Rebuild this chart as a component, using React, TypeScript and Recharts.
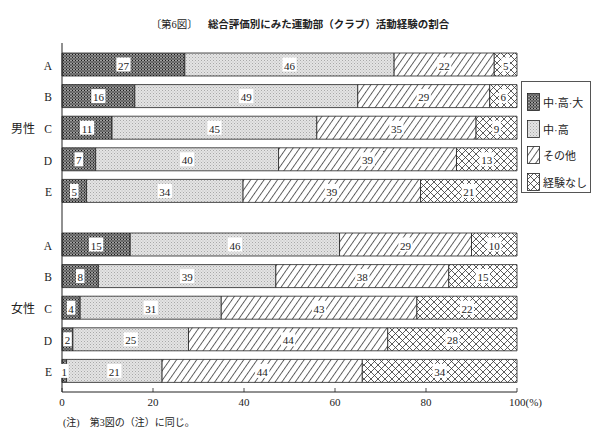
import React from 'react';
import { BarChart, Bar, XAxis, YAxis, LabelList, Legend } from 'recharts';

// 総合評価 categories
const categories = ['A', 'B', 'C', 'D', 'E'];

// 男性 (%)
const maleTop = [27, 16, 11, 7.4, 5.4];
const maleMid = [46, 49, 45, 40.2, 34.4];
const maleOther = [22, 29, 35, 39.1, 39.0];
const maleNone = [5, 6, 9, 13.3, 21.2];

// 女性 (%)
const femaleTop = [15, 8, 4, 2.4, 1];
const femaleMid = [46, 39, 31, 25.4, 21];
const femaleOther = [29, 38, 43, 43.8, 44];
const femaleNone = [10, 15, 22, 28.4, 34];

const xTicks = [0, 20, 40, 60, 80, 100];
const seriesNames = ['中·高·大', '中·高', 'その他', '経験なし'];
const seriesKeys = ['top', 'mid', 'other', 'none'];
const patternIds = ['pTop', 'pMid', 'pOther', 'pNone'];

const FONT = "'Liberation Serif', 'DejaVu Serif', 'Noto Sans CJK JP', serif";
const INK = '#222';

const maleData = categories.map((name, i) => ({
  name, top: maleTop[i], mid: maleMid[i], other: maleOther[i], none: maleNone[i],
}));
const femaleData = categories.map((name, i) => ({
  name, top: femaleTop[i], mid: femaleMid[i], other: femaleOther[i], none: femaleNone[i],
}));

const Patterns = () => (
  <defs>
    <pattern id="pTop" width="3" height="3" patternUnits="userSpaceOnUse">
      <rect width="3" height="3" fill="#7c7c7c" />
      <rect x="0" y="0" width="1" height="1" fill="#1a1a1a" />
      <rect x="1.5" y="1.5" width="1" height="1" fill="#2a2a2a" />
      <rect x="1.5" y="0" width="1" height="1" fill="#c8c8c8" />
    </pattern>
    <pattern id="pMid" width="3" height="3" patternUnits="userSpaceOnUse">
      <rect width="3" height="3" fill="#e4e4e4" />
      <rect x="0" y="0" width="1" height="1" fill="#a8a8a8" />
      <rect x="1.5" y="1.5" width="1" height="1" fill="#b8b8b8" />
    </pattern>
    <pattern id="pOther" width="5.5" height="8" patternUnits="userSpaceOnUse" patternTransform="rotate(35)">
      <rect width="5.5" height="8" fill="#fff" />
      <line x1="0.5" y1="0" x2="0.5" y2="8" stroke="#333" strokeWidth="0.8" />
    </pattern>
    <pattern id="pNone" width="7" height="7" patternUnits="userSpaceOnUse">
      <rect width="7" height="7" fill="#fff" />
      <path d="M0,0 L7,7 M7,0 L0,7" stroke="#333" strokeWidth="0.8" />
    </pattern>
  </defs>
);

const ValueLabel = (props: any) => {
  const { x, y, width, height, value } = props;
  const text = String(Math.round(Number(value)));
  const cx = Number(x) + Number(width) / 2;
  const cy = Number(y) + Number(height) / 2;
  const w = text.length * 5.6 + 3;
  return (
    <g>
      <rect x={cx - w / 2} y={cy - 7} width={w} height={14} fill="#fff" />
      <text x={cx} y={cy + 1} textAnchor="middle" dominantBaseline="central"
        fontSize={11} fontFamily={FONT} fill={INK}>{text}</text>
    </g>
  );
};

const makeYTick = (group: string) => (props: any) => {
  const { x, y, payload } = props;
  return (
    <g>
      <text x={x} y={y + 1} textAnchor="end" dominantBaseline="central"
        fontSize={11.5} fontFamily={FONT} fill={INK}>{payload.value}</text>
      {payload.value === 'C' && (
        <text x={x - 17} y={y + 1} textAnchor="end" dominantBaseline="central"
          fontSize={12} fontFamily={FONT} fill={INK}>{group}</text>
      )}
    </g>
  );
};

const XTick = (props: any) => {
  const { x, y, payload } = props;
  const v = payload.value;
  return (
    <g>
      <line x1={x} x2={x} y1={y} y2={y - 4} stroke={INK} strokeWidth={0.8} />
      {v === 100 ? (
        <text x={x - 8} y={y + 10} textAnchor="start" dominantBaseline="central"
          fontSize={11} fontFamily={FONT} fill={INK}>100<tspan>(%)</tspan></text>
      ) : (
        <text x={x} y={y + 10} textAnchor="middle" dominantBaseline="central"
          fontSize={11} fontFamily={FONT} fill={INK}>{v}</text>
      )}
    </g>
  );
};

const LegendBox = () => (
  <div style={{
    width: 70, height: 112, border: '1px solid #555', background: '#fff',
    fontFamily: FONT, fontSize: 11, color: INK, boxSizing: 'border-box', paddingTop: 7,
  }}>
    {seriesNames.map((n, i) => (
      <div key={n} style={{ display: 'flex', alignItems: 'center', height: 26.5, paddingLeft: 5 }}>
        <svg width={13} height={18} style={{ marginRight: 3 }}>
          <rect x={0.5} y={0.5} width={12} height={17} fill={`url(#${patternIds[i]})`} stroke={INK} strokeWidth={0.8} />
        </svg>
        <span>{n}</span>
      </div>
    ))}
  </div>
);

const bars = () =>
  seriesKeys.map((k, i) => (
    <Bar key={k} yAxisId="l" dataKey={k} name={seriesNames[i]} stackId="s"
      fill={`url(#${patternIds[i]})`} stroke={INK} strokeWidth={0.8}
      barSize={23} isAnimationActive={false}>
      <LabelList dataKey={k} content={ValueLabel} />
    </Bar>
  ));

export default function App() {
  return (
    <div style={{ position: 'relative', width: 609, height: 447, background: '#fff', fontFamily: FONT }}>
      <style>{'body{margin:0;background:#fff}'}</style>
      <div style={{
        position: 'absolute', left: 0, top: 16, width: 600, textAlign: 'center',
        fontSize: 10.5, color: INK, fontFamily: "'Noto Sans CJK JP', sans-serif", whiteSpace: 'nowrap',
      }}>
        <span style={{ fontFamily: "'Liberation Serif', 'Noto Sans CJK JP', serif", fontWeight: 400 }}>〔第6図〕</span>
        <span style={{ fontWeight: 700, marginLeft: 10 }}>総合評価別にみた運動部（クラブ）活動経験の割合</span>
      </div>

      <div style={{ position: 'absolute', left: 0, top: 0 }}>
        <BarChart width={609} height={218} data={maleData} layout="vertical"
          margin={{ top: 43, right: 92, bottom: 0, left: 0 }} barCategoryGap={0}>
          <Patterns />
          <XAxis type="number" orientation="top" domain={[0, 100]} ticks={xTicks} height={0}
            tick={false} tickLine={false} axisLine={{ stroke: INK, strokeWidth: 1 }} />
          <YAxis yAxisId="l" type="category" dataKey="name" width={62} padding={{ top: 6, bottom: 11 }}
            tickLine={false} tickMargin={4} axisLine={{ stroke: INK, strokeWidth: 1 }}
            tick={makeYTick('男性')} interval={0} />
          <YAxis yAxisId="r" type="category" dataKey="name" orientation="right" width={0}
            padding={{ top: 6, bottom: 11 }} tick={false} tickLine={false}
            axisLine={{ stroke: INK, strokeWidth: 1 }} />
          {bars()}
          <Legend layout="vertical" align="center" verticalAlign="middle" content={() => <LegendBox />}
            wrapperStyle={{ position: 'absolute', left: 521, top: 81, width: 72, height: 114 }} />
        </BarChart>
      </div>

      <div style={{ position: 'absolute', left: 0, top: 218 }}>
        <BarChart width={609} height={229} data={femaleData} layout="vertical"
          margin={{ top: 0, right: 92, bottom: 35, left: 0 }} barCategoryGap={0}>
          <XAxis type="number" orientation="bottom" domain={[0, 100]} ticks={xTicks} height={20}
            tickSize={0} tickMargin={0} tickLine={false} tick={XTick} interval={0}
            axisLine={{ stroke: INK, strokeWidth: 1 }} />
          <YAxis yAxisId="l" type="category" dataKey="name" width={62} padding={{ top: 11, bottom: 5 }}
            tickLine={false} tickMargin={4} axisLine={{ stroke: INK, strokeWidth: 1 }}
            tick={makeYTick('女性')} interval={0} />
          <YAxis yAxisId="r" type="category" dataKey="name" orientation="right" width={0}
            padding={{ top: 11, bottom: 5 }} tick={false} tickLine={false}
            axisLine={{ stroke: INK, strokeWidth: 1 }} />
          {bars()}
        </BarChart>
      </div>

      <div style={{
        position: 'absolute', left: 63, top: 414, fontSize: 10, color: INK, whiteSpace: 'nowrap',
        fontFamily: "'Liberation Serif', 'Noto Sans CJK JP', serif",
      }}>
        (注)　第3図の（注）に同じ。
      </div>
    </div>
  );
}
